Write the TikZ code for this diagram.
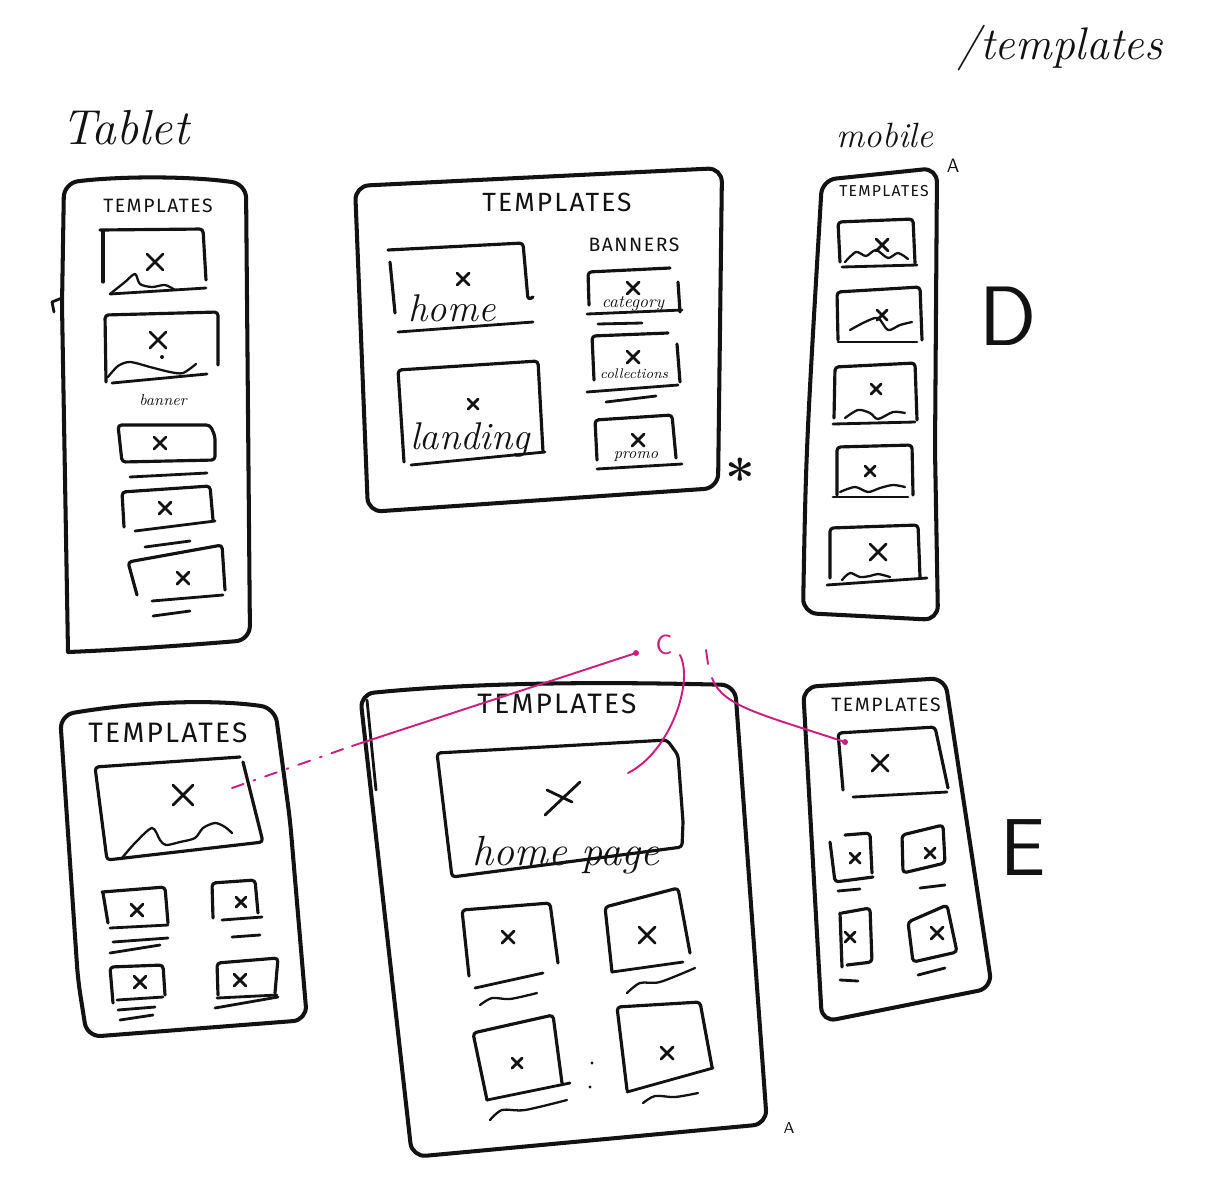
\documentclass[tikz,border=0pt]{standalone}
\usepackage{fontspec}
\newfontfamily\capsfont{Fira Sans}
\definecolor{ink}{RGB}{18,18,18}
\definecolor{mag}{RGB}{205,30,125}
\tikzset{
  devframe/.style={draw=ink, line width=2.3pt, rounded corners=8pt},
  imgbox/.style={draw=ink, line width=1.8pt, rounded corners=2pt},
  sk/.style={draw=ink, line width=1.6pt},
  wav/.style={draw=ink, line width=1.3pt},
  magline/.style={draw=mag, line width=1.1pt},
  caps/.style={text=ink, inner sep=0pt,
    font=\capsfont\fontsize{#1}{#1}\selectfont\addfontfeature{LetterSpace=8}},
  hand/.style={text=ink, inner sep=0pt,
    font=\itshape\fontsize{#1}{#1}\selectfont},
  big/.style={text=ink, inner sep=0pt,
    font=\sffamily\fontsize{#1}{#1}\selectfont},
  pics/xx/.style={code={\draw[sk] (-#1,-#1) -- (#1,#1) (-#1,#1) -- (#1,-#1);}}
}
\begin{document}
\begin{tikzpicture}[x=0.02cm, y=-0.02cm, line cap=round, line join=round]
\fill[white] (0,0) rectangle (1222,1200);
\useasboundingbox (0,0) rectangle (1222,1200);

% ---------- headings ----------
\node[hand=26] (title) at (1060,48) {/templates};
\node[hand=28] (tablet) at (125,128) {Tablet};
\node[hand=20] (mobile) at (885,135) {mobile};

% ---------- tablet, list layout ----------
\draw[devframe] (68,652) -- (62,305) -- (64,183) .. controls (120,176) and (190,176) .. (246,184) -- (250,640) .. controls (190,645) and (120,650) .. (68,652);
\draw[sk] (62,298) -- (52,302) -- (54,312);
\node[caps=11] (t1title) at (158,206) {TEMPLATES};
\draw[imgbox] (103,231) -- (103,282);
\draw[imgbox] (100,230) -- (203,229) -- (206,280);
\draw[sk] (110,294) -- (206,288);
\draw[wav] plot[smooth] coordinates {(110,294) (125,282) (135,274) (140,284) (152,287) (165,285) (175,290)};
\pic at (155,262) {xx=8};
\draw[imgbox] (106,382) -- (105,315) -- (218,312) -- (218,365);
\draw[sk] (112,383) -- (207,374);
\draw[wav] plot[smooth] coordinates {(108,377) (118,366) (130,362) (150,367) (170,372) (183,373) (196,364)};
\pic at (158,340) {xx=8};
\fill[ink] (162,357) circle (2);
\node[hand=9] (banner) at (163,400) {banner};
\draw[imgbox] (122,462) -- (118,425) -- (210,425) -- (215,436) -- (215,460) -- cycle;
\pic at (160,443) {xx=6};
\draw[sk] (130,477) -- (207,473);
\draw[imgbox] (124,527) -- (122,492) -- (210,486) -- (213,520);
\pic at (165,508) {xx=6};
\draw[sk] (135,531) -- (215,521);
\draw[sk] (145,547) -- (190,541);
\draw[imgbox] (137,595) -- (128,562) -- (222,545) -- (225,590);
\pic at (183,578) {xx=6};
\draw[sk] (152,601) -- (223,595);
\draw[sk] (153,616) -- (190,611);

% ---------- desktop, banners layout ----------
\draw[devframe] (368,512) -- (355,186) -- (722,168) -- (718,488) -- cycle;
\node[caps=15] (m1title) at (557,202) {TEMPLATES};
\node[caps=11] (banners) at (634,245) {BANNERS};
\draw[imgbox] (390,262) -- (395,313);
\draw[imgbox] (388,250) -- (523,243) -- (528,300) -- (533,297);
\draw[sk] (398,332) -- (533,322);
\pic at (463,279) {xx=6};
\node[hand=22] (home) at (452,308) {home};
\draw[imgbox] (404,462) -- (398,370) -- (538,361) -- (543,452);
\draw[sk] (411,465) -- (545,452);
\pic at (473,404) {xx=5};
\node[hand=22] (landing) at (470,440) {landing};
\draw[imgbox] (589,305) -- (588,272) -- (670,268);
\draw[imgbox] (678,282) -- (680,312);
\draw[sk] (587,314) -- (682,310);
\draw[sk] (598,324) -- (642,323);
\pic at (633,288) {xx=6};
\node[hand=10] (cat) at (633,304) {category};
\draw[imgbox] (594,380) -- (592,336) -- (668,333);
\draw[imgbox] (677,344) -- (680,382);
\draw[sk] (587,392) -- (678,385);
\draw[sk] (606,402) -- (656,396);
\pic at (633,357) {xx=6};
\node[hand=8] (coll) at (634,374) {collections};
\draw[imgbox] (597,460) -- (595,420) -- (672,415) -- (676,458);
\draw[sk] (597,469) -- (682,464);
\pic at (638,440) {xx=6};
\node[hand=9] (promo) at (636,457) {promo};
\node[text=ink, font=\bfseries\fontsize{30}{30}\selectfont] (star) at (740,478) {*};

% ---------- mobile, list layout ----------
\draw[devframe] (803,613) .. controls (806,450) .. (822,180) -- (937,168) -- (935,450) -- (938,620) -- cycle;
\node[text=ink, font=\sffamily\fontsize{11}{11}\selectfont] (mA) at (953,166) {A};
\node[caps=9] (r1title) at (884,191) {TEMPLATES};
\draw[imgbox] (840,262) -- (838,222) -- (913,219) -- (915,263);
\draw[sk] (842,267) -- (917,265);
\draw[wav] plot[smooth] coordinates {(845,262) (856,252) (866,256) (876,250) (888,258) (898,253) (908,259)};
\pic at (882,245) {xx=6};
\draw[imgbox] (838,340) -- (837,292) -- (920,287) -- (922,340);
\draw[sk] (838,342) -- (917,342);
\draw[wav] plot[smooth] coordinates {(850,330) (865,322) (878,318) (888,330) (900,325) (912,322)};
\pic at (882,315) {xx=5};
\draw[imgbox] (834,418) -- (835,367) -- (915,363) -- (917,420);
\draw[sk] (833,424) -- (915,422);
\draw[wav] plot[smooth] coordinates {(845,418) (858,410) (870,413) (878,419) (893,412) (905,413)};
\pic at (876,389) {xx=5};
\draw[imgbox] (837,495) -- (837,447) -- (912,445) -- (913,495);
\draw[sk] (833,497) -- (908,497);
\draw[wav] plot[smooth] coordinates {(840,492) (855,487) (868,492) (880,488) (893,485) (905,487)};
\pic at (870,471) {xx=5};
\draw[imgbox] (830,578) -- (830,528) -- (918,525) -- (920,577);
\draw[sk] (827,585) -- (927,578);
\draw[wav] plot[smooth] coordinates {(842,580) (850,573) (860,577) (870,576) (878,574) (890,577)};
\pic at (878,552) {xx=8};
\node[big=48] (D) at (1008,316) {D};

% ---------- tablet, grid layout ----------
\draw[devframe] (87,1037) -- (78,980) -- (60,715) .. controls (150,700) and (220,700) .. (275,708) -- (290,820) -- (307,1020) -- cycle;
\node[caps=16] (t2title) at (168,733) {TEMPLATES};
\draw[imgbox] (243,762) -- (263,842) -- (107,860) -- (95,767) -- (240,757);
\draw[wav] plot[smooth] coordinates {(122,858) (135,843) (152,828) (160,840) (166,845) (180,842) (195,838) (203,828) (215,823) (225,827) (232,833)};
\pic at (183,795) {xx=10};
\draw[imgbox] (103,893) -- (108,923);
\draw[imgbox] (102,892) -- (165,887) -- (168,923);
\draw[sk] (110,928) -- (168,925);
\draw[sk] (113,942) -- (168,938);
\draw[sk] (110,953) -- (160,945);
\pic at (137,910) {xx=6};
\draw[imgbox] (213,918) -- (212,883) -- (255,880) -- (258,913);
\draw[sk] (222,920) -- (262,917);
\draw[sk] (232,937) -- (260,935);
\pic at (241,902) {xx=5};
\draw[imgbox] (113,1003) -- (110,967) -- (163,965) -- (165,995);
\draw[sk] (117,1000) -- (163,997);
\draw[sk] (118,1010) -- (155,1007);
\draw[sk] (120,1020) -- (153,1015);
\pic at (140,982) {xx=6};
\draw[imgbox] (218,995) -- (217,963) -- (278,958) -- (275,993);
\draw[sk] (217,998) -- (277,995);
\draw[sk] (215,1008) -- (278,997);
\pic at (240,980) {xx=6};

% ---------- desktop, grid layout ----------
\draw[devframe] (412,1157) -- (360,694) .. controls (500,680) and (650,683) .. (735,685) -- (767,1124) -- cycle;
\draw[sk] (367,700) -- (376,790);
\node[caps=16] (m2title) at (557,704) {TEMPLATES};
\draw[imgbox] (683,822) -- (678,755) -- (667,740) -- (437,753) -- (452,877) -- (682,847) -- (683,822);
\draw[sk] (545,815) -- (580,782);
\draw[sk] (547,790) -- (572,802);
\node[hand=24] (homepage) at (566,855) {home page};
\draw[imgbox] (469,976) -- (462,910) -- (550,903) -- (558,963);
\draw[sk] (475,988) -- (543,973);
\draw[wav] plot[smooth] coordinates {(480,1005) (492,998) (510,999) (537,993)};
\pic at (508,937) {xx=6};
\draw[imgbox] (612,972) -- (605,907) -- (678,888) -- (690,953);
\draw[sk] (612,972) -- (683,962);
\draw[wav] plot[smooth] coordinates {(627,993) (640,983) (660,982) (695,968)};
\pic at (647,935) {xx=8};
\draw[imgbox] (487,1100) -- (473,1033) -- (553,1015) -- (562,1083);
\draw[sk] (487,1100) -- (570,1083);
\draw[wav] plot[smooth] coordinates {(490,1120) (502,1110) (525,1110) (567,1100)};
\pic at (517,1063) {xx=5};
\draw[imgbox] (627,1090) -- (617,1007) -- (700,1002) -- (712,1067);
\draw[sk] (627,1092) -- (713,1068);
\draw[wav] plot[smooth] coordinates {(643,1103) (655,1096) (675,1097) (698,1093)};
\pic at (667,1053) {xx=6};
\fill[ink] (592,1063) circle (1.6);
\fill[ink] (590,1087) circle (1.6);
\node[text=ink, font=\sffamily\fontsize{9}{9}\selectfont] (m2A) at (789,1128) {A};

% ---------- mobile, grid layout ----------
\draw[devframe] (822,1022) -- (803,687) -- (945,678) -- (992,988) -- cycle;
\node[caps=11] (r2title) at (886,705) {TEMPLATES};
\draw[imgbox] (843,790) -- (838,733) -- (935,727) -- (948,788);
\draw[sk] (853,797) -- (947,792);
\pic at (880,763) {xx=8};
\draw[imgbox] (845,835) -- (870,833) -- (872,873);
\draw[imgbox] (830,842) -- (835,882) -- (873,877);
\draw[sk] (838,891) -- (860,889);
\pic at (855,858) {xx=5};
\draw[imgbox] (903,873) -- (902,835) -- (943,825) -- (945,863) -- cycle;
\draw[sk] (920,888) -- (945,885);
\pic at (930,853) {xx=5};
\draw[imgbox] (842,913) -- (870,908) -- (872,962) -- (847,965);
\draw[imgbox] (840,913) -- (842,967);
\draw[sk] (840,980) -- (858,981);
\pic at (850,937) {xx=5};
\draw[imgbox] (913,962) -- (908,922) -- (947,905) -- (957,952) -- cycle;
\draw[sk] (918,975) -- (945,968);
\pic at (937,933) {xx=6};
\node[big=46] (E) at (1023,848) {E};

% ---------- magenta links ----------
\coordinate (la) at (232,788);
\coordinate (lb) at (352,746);
\coordinate (lc) at (636,653);
\draw[magline, dash pattern=on 7pt off 6pt on 1pt off 6pt] (la) -- (lb);
\draw[magline] (lb) -- (lc);
\fill[mag] (lc) circle (3);
\node[text=mag, font=\sffamily\fontsize{16}{16}\selectfont] (C) at (664,645) {C};
\coordinate (ca) at (680,655);
\coordinate (cb) at (628,773);
\draw[magline] (ca) .. controls (694,682) and (670,752) .. (cb);
\coordinate (da) at (706,650);
\coordinate (db) at (708,664);
\coordinate (dc) at (712,678);
\coordinate (dd) at (845,742);
\draw[magline] (da) -- (db);
\draw[magline] (dc) .. controls (722,706) and (760,714) .. (dd);
\fill[mag] (dd) circle (3);
\end{tikzpicture}
\end{document}
